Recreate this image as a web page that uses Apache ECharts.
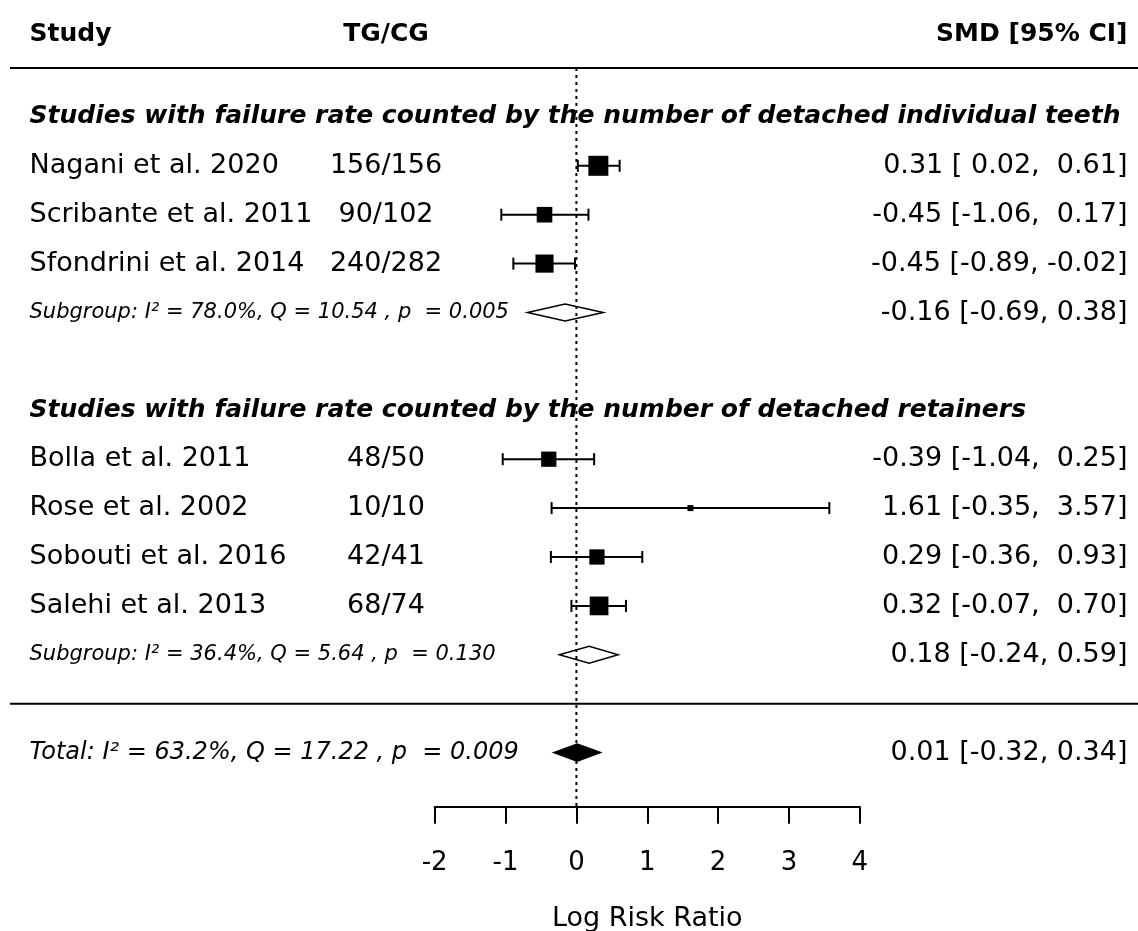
<!DOCTYPE html>
<html>
<head>
<meta charset="utf-8">
<script src="https://cdn.jsdelivr.net/npm/echarts@6/dist/echarts.min.js"></script>
<style>
html,body{margin:0;padding:0;background:#fff;}
#chart{width:1138px;height:931px;}
</style>
</head>
<body>
<div id="chart"></div>
<script>
// ---------------- data ----------------
const studies = ['Nagani et al. 2020','Scribante et al. 2011','Sfondrini et al. 2014',
                 'Bolla et al. 2011','Rose et al. 2002','Sobouti et al. 2016','Salehi et al. 2013'];
const tgcg = ['156/156','90/102','240/282','48/50','10/10','42/41','68/74'];
const studyGroup = [0,0,0,1,1,1,1];
const smd    = [0.31,-0.45,-0.45,-0.39,1.61,0.29,0.32];
const ciLow  = [0.02,-1.06,-0.89,-1.04,-0.35,-0.36,-0.07];
const ciHigh = [0.61,0.17,-0.02,0.25,3.57,0.93,0.70];
const weights = [4.49,3.34,4.00,3.25,0.83,3.25,4.16]; // relative study weights (box size)
const groupTitles = ['Studies with failure rate counted by the number of detached individual teeth',
                     'Studies with failure rate counted by the number of detached retainers'];
const groupStats = ['Subgroup: I\u00b2 = 78.0%, Q = 10.54 , p  = 0.005',
                    'Subgroup: I\u00b2 = 36.4%, Q = 5.64 , p  = 0.130'];
const groupEst  = [-0.16,0.18];
const groupLow  = [-0.69,-0.24];
const groupHigh = [0.38,0.59];
const totalStat = 'Total: I\u00b2 = 63.2%, Q = 17.22 , p  = 0.009';
const totalEst = 0.01, totalLow = -0.32, totalHigh = 0.34;
const headers = ['Study','TG/CG','SMD [95% CI]'];
const xTickMin = -2, xTickMax = 4, xTickStep = 1;
const axisTitle = 'Log Risk Ratio';

// ---------------- layout ----------------
const W = 1138, H = 931;
const ROW = 48.9;                 // px per row
const TOP_LINE_PX = 68;           // header rule
const AXIS_PX = 806.7;            // x axis line
const Y_MIN = -2 - TOP_LINE_PX / ROW;
const Y_MAX = (AXIS_PX - 68) / ROW - 2;
const PLOT_LEFT = 434.7, PLOT_RIGHT_PX = 859.8;
const FONT = 'DejaVu Sans';
const INK = '#000';

// rows
const studyRow = [], titleRow = [], statRow = [];
let r = -1;
[0,1].forEach(g => {
  titleRow[g] = r++;
  studies.forEach((s,i) => { if (studyGroup[i] === g) studyRow[i] = r++; });
  statRow[g] = r;
  r += 2;
});
const sepRow = statRow[1] + 1;
const totalRow = statRow[1] + 2;
const headerRow = -2.69;

const f2 = v => v.toFixed(2);
const pad = v => (v >= 0 ? ' ' : '') + f2(v);
const ciStudy = i => f2(smd[i]) + ' [' + pad(ciLow[i]) + ', ' + pad(ciHigh[i]) + ']';
const ciSum = (e,l,h) => f2(e) + ' [' + f2(l) + ', ' + f2(h) + ']';

const wMin = Math.min(...weights), wMax = Math.max(...weights);
const boxSize = w => 6 + (w - wMin) / (wMax - wMin) * 14;

// ---------------- texts ----------------
const X_LEFT = 29, X_MID = 386, X_RIGHT = 1128;
const texts = [];
function txt(x, row, text, align, style) {
  const pos = align === 'left' ? 'right' : (align === 'right' ? 'left' : 'inside');
  texts.push({
    name: text, value: [x, row],
    label: Object.assign({show: true, position: pos, distance: 0, color: INK, opacity: 1,
      fontFamily: FONT, fontSize: 27}, style)
  });
}
const bold = {fontWeight: 'bold', fontSize: 25};
txt(X_LEFT, headerRow, headers[0], 'left', bold);
txt(X_MID, headerRow, headers[1], 'center', bold);
txt(X_RIGHT, headerRow, headers[2], 'right', bold);
[0,1].forEach(g => {
  txt(X_LEFT, titleRow[g], groupTitles[g], 'left', {fontWeight: 'bold', fontStyle: 'italic', fontSize: 25});
  txt(X_LEFT, statRow[g], groupStats[g], 'left', {fontStyle: 'italic', fontSize: 21});
  txt(X_RIGHT, statRow[g], ciSum(groupEst[g], groupLow[g], groupHigh[g]), 'right', {});
});
studies.forEach((s,i) => {
  txt(X_LEFT, studyRow[i], s, 'left', {});
  txt(X_MID, studyRow[i], tgcg[i], 'center', {});
  txt(X_RIGHT, studyRow[i], ciStudy(i), 'right', {});
});
txt(X_LEFT, totalRow, totalStat, 'left', {fontStyle: 'italic', fontSize: 24});
txt(X_RIGHT, totalRow, ciSum(totalEst, totalLow, totalHigh), 'right', {});

// ---------------- series data ----------------
const studyData = studies.map((s,i) => [smd[i], ciLow[i], ciHigh[i], studyRow[i], weights[i]]);
const diamondData = [
  [groupEst[0], groupLow[0], groupHigh[0], statRow[0], 0],
  [groupEst[1], groupLow[1], groupHigh[1], statRow[1], 0],
  [totalEst, totalLow, totalHigh, totalRow, 1]
];

const chart = echarts.init(document.getElementById('chart'), null, {renderer: 'canvas'});
chart.setOption({
  animation: false,
  backgroundColor: '#fff',
  grid: [
    {left: PLOT_LEFT, right: W - PLOT_RIGHT_PX, top: 0, bottom: H - AXIS_PX,
     containLabel: false, outerBoundsMode: 'none'},
    {left: 0, right: 0, top: 0, bottom: H - AXIS_PX,
     containLabel: false, outerBoundsMode: 'none'}
  ],
  xAxis: [
    {gridIndex: 0, type: 'value', min: xTickMin, max: xTickMax, interval: xTickStep,
     axisLine: {show: true, onZero: false, lineStyle: {color: INK, width: 2}},
     axisTick: {show: true, length: 17, lineStyle: {color: INK, width: 2}},
     axisLabel: {fontFamily: FONT, fontSize: 26, color: INK, margin: 44},
     splitLine: {show: false},
     name: axisTitle, nameLocation: 'middle', nameGap: 99,
     nameTextStyle: {fontFamily: FONT, fontSize: 27, color: INK}},
    {gridIndex: 1, type: 'value', min: 0, max: W, show: false}
  ],
  yAxis: [
    {gridIndex: 0, type: 'value', min: Y_MIN, max: Y_MAX, inverse: true, show: false},
    {gridIndex: 1, type: 'value', min: Y_MIN, max: Y_MAX, inverse: true, show: false}
  ],
  series: [
    { // reference line at 0
      type: 'line', xAxisIndex: 0, yAxisIndex: 0, symbol: 'none', silent: true,
      data: [[0, -2], [0, Y_MAX]],
      lineStyle: {color: INK, width: 2, type: [3, 4]}
    },
    { // horizontal rules
      type: 'custom', xAxisIndex: 1, yAxisIndex: 1, silent: true,
      data: [[10, W, -2], [10, W, sepRow]],
      renderItem: (params, api) => {
        const a = api.coord([api.value(0), api.value(2)]);
        const b = api.coord([api.value(1), api.value(2)]);
        return {type: 'line', shape: {x1: a[0], y1: a[1], x2: b[0], y2: b[1]},
                style: {stroke: INK, lineWidth: 2}};
      }
    },
    { // study CIs and boxes
      type: 'custom', xAxisIndex: 0, yAxisIndex: 0, silent: true,
      data: studyData,
      renderItem: (params, api) => {
        const row = api.value(3);
        const c = api.coord([api.value(0), row]);
        const lo = api.coord([api.value(1), row]);
        const hi = api.coord([api.value(2), row]);
        const s = boxSize(api.value(4));
        const cap = 6;
        const st = {stroke: INK, lineWidth: 2};
        return {type: 'group', children: [
          {type: 'line', shape: {x1: lo[0], y1: lo[1], x2: hi[0], y2: hi[1]}, style: st},
          {type: 'line', shape: {x1: lo[0], y1: lo[1] - cap, x2: lo[0], y2: lo[1] + cap}, style: st},
          {type: 'line', shape: {x1: hi[0], y1: hi[1] - cap, x2: hi[0], y2: hi[1] + cap}, style: st},
          {type: 'rect', shape: {x: c[0] - s / 2, y: c[1] - s / 2, width: s, height: s},
           style: {fill: '#000'}}
        ]};
      }
    },
    { // summary diamonds
      type: 'custom', xAxisIndex: 0, yAxisIndex: 0, silent: true,
      data: diamondData,
      renderItem: (params, api) => {
        const row = api.value(3);
        const c = api.coord([api.value(0), row]);
        const lo = api.coord([api.value(1), row]);
        const hi = api.coord([api.value(2), row]);
        const h = 8.5;
        const filled = api.value(4) === 1;
        return {type: 'polygon',
          shape: {points: [[lo[0], lo[1]], [c[0], c[1] - h], [hi[0], hi[1]], [c[0], c[1] + h]]},
          style: {fill: filled ? '#000' : '#fff', stroke: '#000', lineWidth: 1.5}};
      }
    },
    { // text table
      type: 'scatter', xAxisIndex: 1, yAxisIndex: 1, silent: true,
      symbolSize: 1, itemStyle: {color: 'rgba(0,0,0,0)', opacity: 1},
      label: {show: true, formatter: p => p.name},
      data: texts
    }
  ]
});
</script>
</body>
</html>
